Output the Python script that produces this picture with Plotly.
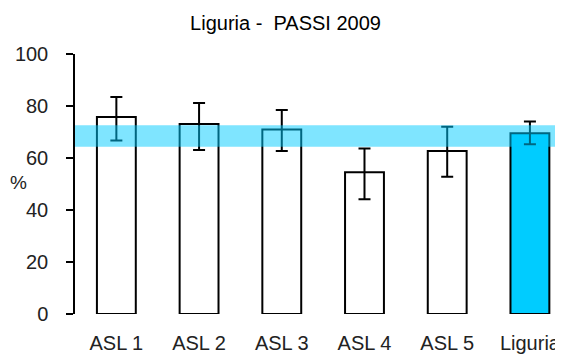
import plotly.graph_objects as go

categories = ['ASL 1', 'ASL 2', 'ASL 3', 'ASL 4', 'ASL 5', 'Liguria']
values = [75.8, 73.1, 71.0, 54.5, 62.7, 69.5]
ci_low = [66.7, 63.1, 62.7, 44.1, 52.8, 65.3]
ci_high = [83.5, 81.2, 78.5, 63.7, 72.0, 74.0]
band_low, band_high = 64.3, 72.6
y_ticks = [0, 20, 40, 60, 80, 100]

FONT = 'Liberation Sans, Arial, sans-serif'

fill_colors = ['white'] * (len(categories) - 1) + ['#00CCFF']
err_plus = [h - v for h, v in zip(ci_high, values)]
err_minus = [v - l for v, l in zip(values, ci_low)]

fig = go.Figure()
fig.add_trace(
    go.Bar(
        x=categories,
        y=values,
        width=0.47,
        marker=dict(color=fill_colors, line=dict(color='black', width=2)),
        error_y=dict(
            type='data',
            array=err_plus,
            arrayminus=err_minus,
            color='black',
            thickness=2,
            width=6,
        ),
        showlegend=False,
    )
)

# banda dell'intervallo regionale
fig.add_shape(
    type='rect',
    xref='x',
    yref='y',
    x0=-0.573,
    x1=5.34,
    y0=band_low,
    y1=band_high,
    fillcolor='rgba(0, 204, 255, 0.5)',
    line=dict(width=0),
    layer='above',
)

fig.add_annotation(
    text='%',
    xref='paper',
    yref='paper',
    x=-0.116,
    y=0.506,
    xanchor='center',
    yanchor='middle',
    showarrow=False,
    font=dict(family=FONT, size=19, color='#222'),
)

# la pagina ha un margine di 8px sul body
fig.update_layout(
    width=555,
    height=351,
    margin=dict(l=67, r=0, t=46, b=45),
    paper_bgcolor='white',
    plot_bgcolor='white',
    title=dict(
        text='Liguria -&nbsp; PASSI 2009',
        x=0.5,
        xanchor='center',
        y=0.957,
        yanchor='middle',
        font=dict(family=FONT, size=20, color='black'),
    ),
    xaxis=dict(
        range=[-0.5, 5.4],
        showline=False,
        showgrid=False,
        ticks='',
        automargin=False,
        ticklabelstandoff=15,
        tickfont=dict(family=FONT, size=20, color='#222'),
    ),
    yaxis=dict(
        range=[0, 100],
        tickvals=y_ticks,
        showline=True,
        linecolor='black',
        linewidth=1.5,
        showgrid=False,
        zeroline=False,
        automargin=False,
        ticks='outside',
        ticklen=7,
        tickcolor='black',
        tickwidth=1.5,
        ticklabelstandoff=14,
        tickfont=dict(family=FONT, size=20, color='#222'),
    ),
)

fig.write_html('out.html')
